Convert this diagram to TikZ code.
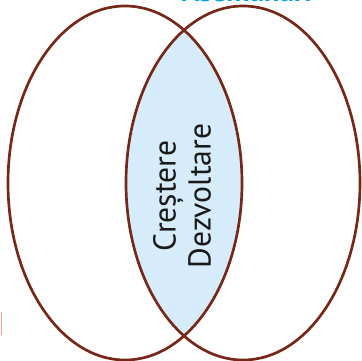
\documentclass[tikz,border=0pt]{standalone}
\usepackage{fontspec}
\setmainfont{PT Sans}
\usepackage{tikz}
\usetikzlibrary{positioning}

\definecolor{rimbrown}{RGB}{118,40,24}
\definecolor{lensblue}{RGB}{214,236,250}
\definecolor{titleblue}{RGB}{0,160,222}
\definecolor{markpink}{RGB}{255,160,150}

\begin{document}
\begin{tikzpicture}[
    x=0.05cm, y=-0.05cm,
    rim/.style={draw=rimbrown, line width=3.8pt},
    label/.style={align=center, rotate=90, font=\fontsize{45}{50}\selectfont, text=black!90},
    title/.style={font=\bfseries\fontsize{41}{45}\selectfont, text=titleblue}
]
    \useasboundingbox (0,0) rectangle (361,361);

    % Overlap
    \begin{scope}
        \clip (125,183) ellipse [x radius=117, y radius=177];
        \fill [lensblue] (243,183) ellipse [x radius=117, y radius=177];
    \end{scope}

    % Circles
    \draw [rim] (125,183) ellipse [x radius=117, y radius=177];
    \draw [rim] (243,183) ellipse [x radius=117, y radius=177];

    % Nodes
    \node [label] (common) at (182,196) {Creștere\\Dezvoltare};
    \node [title, anchor=base] (heading) at (247,1.5) {Asemănări};

    \draw [markpink, line width=1.4pt] (1,312) -- (1,335);
\end{tikzpicture}
\end{document}
